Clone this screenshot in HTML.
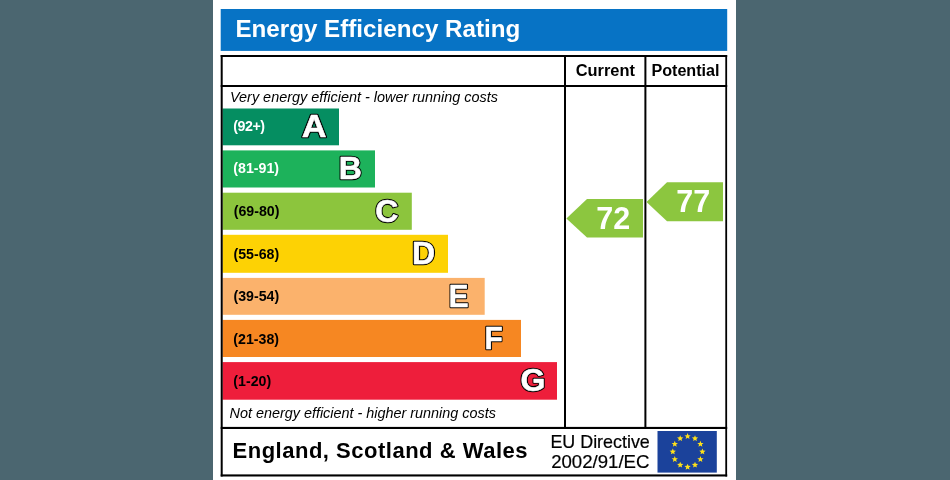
<!DOCTYPE html>
<html>
<head>
<meta charset="utf-8">
<title>Energy Efficiency Rating</title>
<style>
  html, body { margin: 0; padding: 0; }
  body { width: 950px; height: 480px; overflow: hidden; background: #4b6670; font-family: "Liberation Sans", sans-serif; }
  svg { display: block; position: absolute; left: 0; top: 0; will-change: transform; }
  text { font-family: "Liberation Sans", sans-serif; }
  .b { font-weight: bold; }
  .i { font-style: italic; }
  .rng { font-weight: bold; font-size: 14.2px; }
  .ltr { font-weight: bold; font-size: 32px; fill: #000; stroke: #000; stroke-width: 2.7px; stroke-linejoin: round; }
  .ltw { font-weight: bold; font-size: 32px; fill: #fff; stroke: #fff; stroke-width: 0.55px; stroke-linejoin: round; }
  .num { font-weight: bold; font-size: 30.5px; fill: #fff; }
</style>
</head>
<body>
<svg width="950" height="480" viewBox="0 0 950 480">
  <!-- page -->
  <rect x="0" y="0" width="950" height="480" fill="#4b6670"/>
  <rect x="213" y="0" width="523" height="480" fill="#ffffff"/>

  <!-- title banner -->
  <rect x="220.7" y="9" width="506.5" height="41.9" fill="#0773c5"/>
  <text x="235.4" y="37.2" class="b" font-size="24.2" fill="#ffffff">Energy Efficiency Rating</text>

  <!-- bars -->
  <rect x="222.5" y="108.5" width="116.5" height="36.8" fill="#058e61"/>
  <rect x="222.5" y="150.4" width="152.5" height="37.1" fill="#1db25b"/>
  <rect x="222.5" y="192.7" width="189.3" height="37.1" fill="#8cc53d"/>
  <rect x="222.5" y="234.8" width="225.5" height="38.0" fill="#fdd204"/>
  <rect x="222.5" y="277.9" width="262.2" height="36.9" fill="#fbb26c"/>
  <rect x="222.5" y="319.9" width="298.5" height="37.1" fill="#f68722"/>
  <rect x="222.5" y="362.1" width="334.5" height="37.6" fill="#ee1e3b"/>

  <!-- table lines -->
  <g fill="#000000">
    <rect x="220.7" y="55" width="506.5" height="2"/>
    <rect x="220.7" y="474.4" width="506.5" height="2.1"/>
    <rect x="220.7" y="55" width="2" height="421.5"/>
    <rect x="725.3" y="55" width="1.8" height="421.5"/>
    <rect x="220.7" y="85" width="506.5" height="2"/>
    <rect x="220.7" y="426.9" width="506.5" height="2.1"/>
    <rect x="564" y="55" width="2" height="373"/>
    <rect x="644.4" y="55" width="2" height="373"/>
  </g>

  <!-- header -->
  <text x="575.7" y="75.8" class="b" font-size="16.4" fill="#000">Current</text>
  <text x="651.4" y="75.8" class="b" font-size="16.15" fill="#000">Potential</text>

  <!-- captions -->
  <text x="230" y="102" class="i" font-size="14.43" fill="#000">Very energy efficient - lower running costs</text>
  <text x="229.5" y="418" class="i" font-size="14.4" fill="#000">Not energy efficient - higher running costs</text>

  <!-- range labels -->
  <text x="233.3" y="130.8" class="rng" fill="#fff" style="letter-spacing:-0.45px">(92+)</text>
  <text x="233.3" y="173.3" class="rng" fill="#fff">(81-91)</text>
  <text x="233.7" y="216.1" class="rng" fill="#000">(69-80)</text>
  <text x="233.5" y="259.0" class="rng" fill="#000">(55-68)</text>
  <text x="233.5" y="300.9" class="rng" fill="#000">(39-54)</text>
  <text x="233.3" y="344.3" class="rng" fill="#000">(21-38)</text>
  <text x="233.3" y="386.4" class="rng" fill="#000">(1-20)</text>

  <!-- band letters -->
  <text x="301.8" y="137" textLength="24.8" lengthAdjust="spacingAndGlyphs" class="ltr">A</text><text x="301.8" y="137" textLength="24.8" lengthAdjust="spacingAndGlyphs" class="ltw">A</text>
  <text x="350.3" y="179.2" text-anchor="middle" class="ltr">B</text><text x="350.3" y="179.2" text-anchor="middle" class="ltw">B</text>
  <text x="386.9" y="221.8" text-anchor="middle" class="ltr">C</text><text x="386.9" y="221.8" text-anchor="middle" class="ltw">C</text>
  <text x="423.5" y="263.7" text-anchor="middle" class="ltr">D</text><text x="423.5" y="263.7" text-anchor="middle" class="ltw">D</text>
  <text x="448.7" y="306.5" textLength="19.8" lengthAdjust="spacingAndGlyphs" class="ltr">E</text><text x="448.7" y="306.5" textLength="19.8" lengthAdjust="spacingAndGlyphs" class="ltw">E</text>
  <text x="484.6" y="348.7" textLength="18.2" lengthAdjust="spacingAndGlyphs" class="ltr">F</text><text x="484.6" y="348.7" textLength="18.2" lengthAdjust="spacingAndGlyphs" class="ltw">F</text>
  <text x="533" y="391.3" text-anchor="middle" class="ltr">G</text><text x="533" y="391.3" text-anchor="middle" class="ltw">G</text>

  <!-- arrows -->
  <polygon points="566.4,218.5 587,199 643,199 643,237.6 587,237.6" fill="#8cc63f"/>
  <text x="613.3" y="228.6" text-anchor="middle" class="num">72</text>
  <polygon points="646.5,202 667,182.3 723,182.3 723,221.2 667,221.2" fill="#8cc63f"/>
  <text x="693.3" y="212" text-anchor="middle" class="num">77</text>

  <!-- footer -->
  <text x="232.5" y="457.8" class="b" font-size="22" fill="#000" textLength="295" lengthAdjust="spacing">England, Scotland &amp; Wales</text>
  <text x="550.4" y="447.5" font-size="17.9" fill="#000" stroke="#000" stroke-width="0.2">EU Directive</text>
  <text x="551.2" y="467.8" font-size="18.6" fill="#000" stroke="#000" stroke-width="0.2">2002/91/EC</text>

  <!-- EU flag -->
  <rect x="657.5" y="431" width="59.3" height="41.6" fill="#1b429b"/>
  <g fill="#ffe11a">
    <polygon points="687.60,433.10 688.45,435.23 690.74,435.38 688.98,436.85 689.54,439.07 687.60,437.85 685.66,439.07 686.22,436.85 684.46,435.38 686.75,435.23"/>
    <polygon points="695.00,435.15 695.85,437.28 698.14,437.43 696.38,438.90 696.94,441.12 695.00,439.90 693.06,441.12 693.62,438.90 691.86,437.43 694.15,437.28"/>
    <polygon points="700.42,440.75 701.27,442.88 703.56,443.03 701.80,444.50 702.36,446.72 700.42,445.50 698.48,446.72 699.04,444.50 697.28,443.03 699.56,442.88"/>
    <polygon points="702.40,448.40 703.25,450.53 705.54,450.68 703.78,452.15 704.34,454.37 702.40,453.15 700.46,454.37 701.02,452.15 699.26,450.68 701.55,450.53"/>
    <polygon points="700.42,456.05 701.27,458.18 703.56,458.33 701.80,459.80 702.36,462.02 700.42,460.80 698.48,462.02 699.04,459.80 697.28,458.33 699.56,458.18"/>
    <polygon points="695.00,461.65 695.85,463.78 698.14,463.93 696.38,465.40 696.94,467.62 695.00,466.40 693.06,467.62 693.62,465.40 691.86,463.93 694.15,463.78"/>
    <polygon points="687.60,463.70 688.45,465.83 690.74,465.98 688.98,467.45 689.54,469.67 687.60,468.45 685.66,469.67 686.22,467.45 684.46,465.98 686.75,465.83"/>
    <polygon points="680.20,461.65 681.05,463.78 683.34,463.93 681.58,465.40 682.14,467.62 680.20,466.40 678.26,467.62 678.82,465.40 677.06,463.93 679.35,463.78"/>
    <polygon points="674.78,456.05 675.64,458.18 677.92,458.33 676.16,459.80 676.72,462.02 674.78,460.80 672.84,462.02 673.40,459.80 671.64,458.33 673.93,458.18"/>
    <polygon points="672.80,448.40 673.65,450.53 675.94,450.68 674.18,452.15 674.74,454.37 672.80,453.15 670.86,454.37 671.42,452.15 669.66,450.68 671.95,450.53"/>
    <polygon points="674.78,440.75 675.64,442.88 677.92,443.03 676.16,444.50 676.72,446.72 674.78,445.50 672.84,446.72 673.40,444.50 671.64,443.03 673.93,442.88"/>
    <polygon points="680.20,435.15 681.05,437.28 683.34,437.43 681.58,438.90 682.14,441.12 680.20,439.90 678.26,441.12 678.82,438.90 677.06,437.43 679.35,437.28"/>
  </g>
</svg>
</body>
</html>
